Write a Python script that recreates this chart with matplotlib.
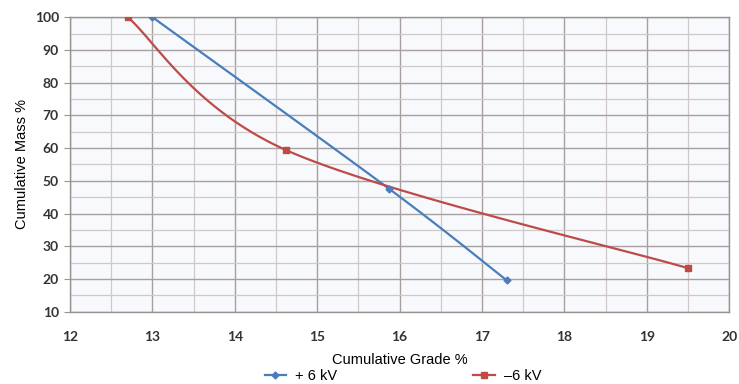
import matplotlib.pyplot as plt
from matplotlib.ticker import MultipleLocator
import numpy as np

# data
plus_grade = [13.0, 15.87, 17.3]
plus_mass = [100.0, 47.6, 19.6]
minus_grade = [12.7, 14.62, 19.5]
minus_mass = [100.0, 59.4, 23.3]
series_labels = ['+ 6 kV', '\u20136 kV']


def smooth(xs, ys, n=60):
    # Excel-like smoothed line: cubic Bezier with Catmull-Rom control points
    p = np.column_stack([xs, ys]).astype(float)
    ext = np.vstack([p[0], p, p[-1]])
    t = np.linspace(0, 1, n)[:, None]
    out = []
    for i in range(len(p) - 1):
        p0, p3 = ext[i + 1], ext[i + 2]
        p1 = p0 + (ext[i + 2] - ext[i]) / 6.0
        p2 = p3 - (ext[i + 3] - ext[i + 1]) / 6.0
        seg = (1 - t) ** 3 * p0 + 3 * (1 - t) ** 2 * t * p1 + 3 * (1 - t) * t ** 2 * p2 + t ** 3 * p3
        out.append(seg if i == 0 else seg[1:])
    out = np.vstack(out)
    return out[:, 0], out[:, 1]


blue = '#4a7ebb'
red = '#be4b48'

fig = plt.figure(figsize=(7.39, 3.84), dpi=100)
ax = fig.add_axes([0.0947, 0.1883, 0.892, 0.767])
ax.set_facecolor('#f7f9fc')

bx, by = smooth(plus_grade, plus_mass)
rx, ry = smooth(minus_grade, minus_mass)
ax.plot(bx, by, color=blue, lw=1.6, zorder=3)
ax.plot(plus_grade, plus_mass, ls='none', marker='D', ms=3.5, color=blue, zorder=4)
ax.plot(rx, ry, color=red, lw=1.6, zorder=3)
ax.plot(minus_grade, minus_mass, ls='none', marker='s', ms=5, color=red, zorder=4)

ax.set_xlim(12, 20)
ax.set_ylim(10, 100)
ax.xaxis.set_major_locator(MultipleLocator(1))
ax.xaxis.set_minor_locator(MultipleLocator(0.5))
ax.yaxis.set_major_locator(MultipleLocator(10))
ax.yaxis.set_minor_locator(MultipleLocator(5))
ax.grid(which='major', color='#a8a09e', lw=1.0)
ax.grid(which='minor', color='#cfcac9', lw=0.9)
ax.set_axisbelow(True)

for s in ax.spines.values():
    s.set_color('#9a9290')
    s.set_linewidth(1.0)
ax.tick_params(axis='x', which='both', length=0, pad=14)
ax.tick_params(axis='y', which='major', length=4, color='#9a9290', pad=4)
ax.tick_params(axis='y', which='minor', length=0)
for lab in ax.get_xticklabels() + ax.get_yticklabels():
    lab.set_fontfamily('Lato')
    lab.set_fontweight('bold')
    lab.set_fontsize(10)
    lab.set_color('#333333')

ax.set_xlabel('Cumulative Grade %', fontfamily='Liberation Sans', fontsize=10.5, labelpad=7)
ax.set_ylabel('Cumulative Mass %', fontfamily='Liberation Sans', fontsize=10.5, labelpad=4)

h1, = ax.plot([], [], color=blue, lw=1.6, marker='D', ms=3.5)
h2, = ax.plot([], [], color=red, lw=1.6, marker='s', ms=5)
fig.legend([h1, h2], series_labels, loc='center', bbox_to_anchor=(0.545, 0.02), ncol=2,
           frameon=False, handlelength=1.5, columnspacing=9.3, handletextpad=0.6,
           prop={'family': 'Liberation Sans', 'size': 10.5})

fig.savefig('out.png', dpi=100)
